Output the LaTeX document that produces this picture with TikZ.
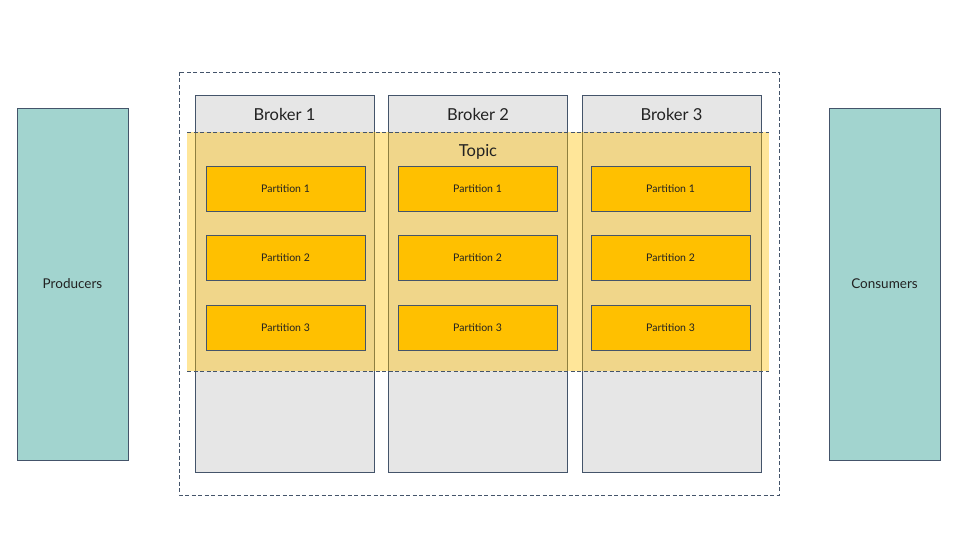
\documentclass[tikz,border=0pt]{standalone}
\usepackage{fontspec}
\setmainfont{Lato}
\definecolor{edge}{HTML}{44546A}
\definecolor{brokergray}{HTML}{E6E6E6}
\definecolor{partyellow}{HTML}{FFC000}
\definecolor{clientteal}{HTML}{A2D4CF}
\definecolor{ink}{HTML}{222222}
\begin{document}
\begin{tikzpicture}[x=1pt,y=-1pt,
	box/.style={draw=edge,line width=0.8pt,inner sep=0pt,outer sep=0pt,text=ink},
	broker/.style={box,fill=brokergray,minimum width=179pt,minimum height=377pt},
	client/.style={box,fill=clientteal,minimum width=111pt,minimum height=352pt,font=\fontsize{13.5}{15}\selectfont},
	partition/.style={box,fill=partyellow,minimum width=159pt,minimum height=45pt,font=\fontsize{10.5}{12}\selectfont},
	title/.style={text=ink,inner sep=0pt,font=\fontsize{16.5}{19}\selectfont},
	topicbox/.style={fill=partyellow,fill opacity=0.4,inner sep=0pt,outer sep=0pt,minimum width=582pt,minimum height=239pt},
	frame/.style={draw=edge,line width=0.8pt,dash pattern=on 4pt off 2.5pt}]
	\useasboundingbox (0,0) rectangle (960,540);
	%\draw[step=20pt,very thin,color=gray] (0,0) grid (960,540);
	% producers and consumers
	\node[client] (prod) at (72.5,284) {Producers};
	\node[client] (cons) at (884.5,284) {Consumers};
	% brokers
	\node[broker] (b1) at (284.5,283.5) {};
	\node[broker] (b2) at (478,283.5) {};
	\node[broker] (b3) at (671.5,283.5) {};
	\node[title] (b1t) at (284.5,114.5) {Broker 1};
	\node[title] (b2t) at (478,114.5) {Broker 2};
	\node[title] (b3t) at (671.5,114.5) {Broker 3};
	% topic
	\node[topicbox] (topic) at (478,251.5) {};
	\draw[frame] (topic.north west) -- (topic.north east);
	\draw[frame] (topic.south west) -- (topic.south east);
	\node[title] (topict) at (478,151.5) {Topic};
	% partitions
	\node[partition] (p11) at (285.5,188.5) {Partition 1};
	\node[partition] (p12) at (285.5,258) {Partition 2};
	\node[partition] (p13) at (285.5,327.5) {Partition 3};
	\node[partition] (p21) at (477.5,188.5) {Partition 1};
	\node[partition] (p22) at (477.5,258) {Partition 2};
	\node[partition] (p23) at (477.5,327.5) {Partition 3};
	\node[partition] (p31) at (670.5,188.5) {Partition 1};
	\node[partition] (p32) at (670.5,258) {Partition 2};
	\node[partition] (p33) at (670.5,327.5) {Partition 3};
	% cluster
	\draw[frame] (179,72) rectangle (779,495);
\end{tikzpicture}
\end{document}
